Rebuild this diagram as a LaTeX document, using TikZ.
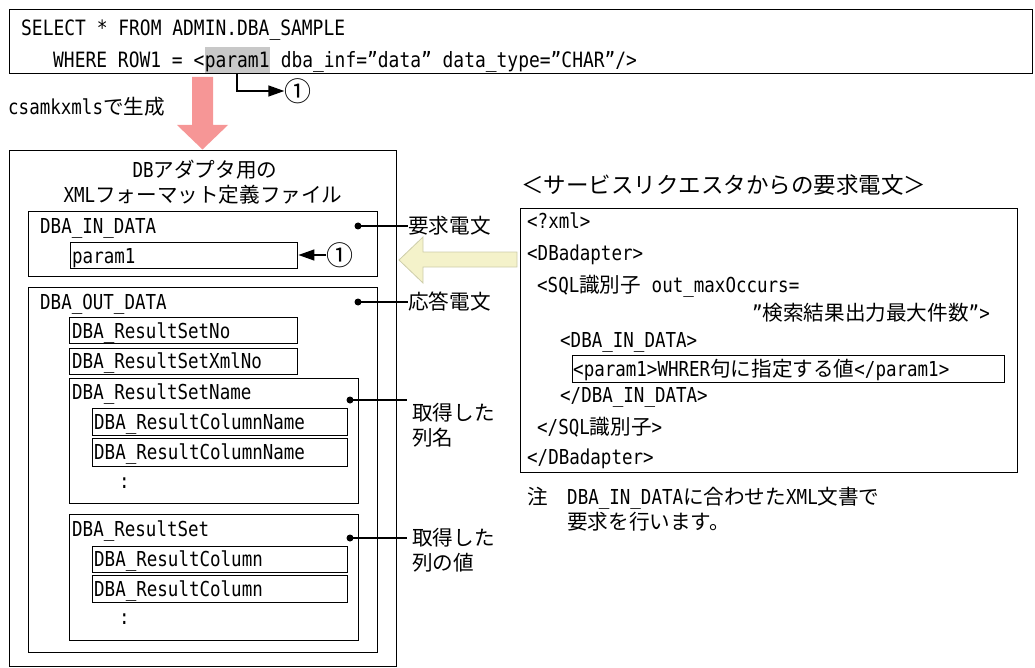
\documentclass[tikz,border=0pt]{standalone}
\usepackage{fontspec}
\setmainfont{DejaVu Sans Mono}[FakeStretch=0.85]
\newfontfamily\jpf{Noto Sans CJK JP}
\newcommand\jt[1]{{\jpf #1}}
\usetikzlibrary{arrows.meta}
\definecolor{pinkarrow}{RGB}{246,150,150}
\definecolor{yelfill}{RGB}{244,242,202}
\definecolor{yeldraw}{RGB}{205,205,170}
\definecolor{hlgray}{RGB}{200,200,200}
\begin{document}
\begin{tikzpicture}[x=1pt,y=-1pt,
  every node/.style={font=\fontsize{20.6}{24}\selectfont},
  txt/.style={anchor=west, inner sep=0pt, text height=15pt, text depth=0pt},
  ctxt/.style={anchor=center, inner sep=0pt, text height=15pt, text depth=0pt},
  toptxt/.style={txt, font=\fontsize{21.1}{24}\selectfont},
  frm/.style={draw, line width=1.4pt, anchor=north west, inner sep=0pt},
  dotnode/.style={circle, fill=black, inner sep=0pt, minimum size=7pt},
  lead/.style={line width=1.4pt},
  tip/.style={line width=1.4pt, -{Triangle[length=16pt,width=11pt]}},
  circ/.style={anchor=center, inner sep=0pt, font=\fontsize{27}{28}\selectfont\jpf}
]
\useasboundingbox (0,0) rectangle (1035,668);

% ---------- top SQL box ----------
\node[frm, minimum width=1023pt, minimum height=64pt] (sqlbox) at (9,9) {};
\node[toptxt] (s1) at (21,28) {SELECT * FROM ADMIN.DBA\_SAMPLE};
\node[toptxt] (w1) at (53,60) {WHERE ROW1 = <};
\node[toptxt, fill=hlgray, inner ysep=5.5pt, anchor=west] (p1) at (w1.east) {param1};
\node[toptxt] (w3) at (p1.east) {\ dba\_inf="data" data\_type="CHAR"/>};
\node[circ] (c1) at (298,91) {①};
\draw[tip] (p1.south) |- (c1.west);

% ---------- pink arrow ----------
\node[txt] (gen) at (8,107) {csamkxmls\jt{で生成}};
\fill[pinkarrow] (192,77) -- (213,77) -- (213,125) -- (228,125) -- (202.5,149.5)
  -- (177,125) -- (192,125) -- cycle;

% ---------- left definition file ----------
\node[frm, minimum width=387pt, minimum height=516pt] (defbox) at (9,150) {};
\node[ctxt] (t1) at (205,170) {DB\jt{アダプタ用の}};
\node[ctxt] (t2) at (203,195) {XML\jt{フォーマット定義ファイル}};

\node[frm, minimum width=349pt, minimum height=65pt] (inbox) at (28,211) {};
\node[txt] (inlbl) at (40,226) {DBA\_IN\_DATA};
\node[frm, minimum width=227pt, minimum height=26pt] (pbox) at (70,242) {};
\node[txt] (plbl) at (72,256) {param1};
\node[circ] (c2) at (340,255) {①};
\draw[tip] (c2.west) -- (c2.west -| pbox.east);

\node[frm, minimum width=349pt, minimum height=365pt] (outbox) at (28,287) {};
\node[txt] (outlbl) at (40,302) {DBA\_OUT\_DATA};
\node[frm, minimum width=228pt, minimum height=26pt] (rsno) at (69,317) {};
\node[txt] at (72,331) (rsnot) {DBA\_ResultSetNo};
\node[frm, minimum width=228pt, minimum height=26pt] (rsxml) at (69,348) {};
\node[txt] at (72,361) (rsxmlt) {DBA\_ResultSetXmlNo};

\node[frm, minimum width=289pt, minimum height=125pt] (rsname) at (69,378) {};
\node[txt] (rsnamet) at (72,392) {DBA\_ResultSetName};
\node[frm, minimum width=255pt, minimum height=27pt] (cn1) at (92,408) {};
\node[txt] (cn1t) at (94,422) {DBA\_ResultColumnName};
\node[frm, minimum width=255pt, minimum height=28pt] (cn2) at (92,438) {};
\node[txt] (cn2t) at (94,452) {DBA\_ResultColumnName};
\node[txt] (dots1) at (119,481) {:};

\node[frm, minimum width=289pt, minimum height=126pt] (rs) at (69,514) {};
\node[txt] (rst) at (72,529) {DBA\_ResultSet};
\node[frm, minimum width=255pt, minimum height=26pt] (col1) at (92,546) {};
\node[txt] (col1t) at (94,559) {DBA\_ResultColumn};
\node[frm, minimum width=255pt, minimum height=27pt] (col2) at (92,575) {};
\node[txt] (col2t) at (94,589) {DBA\_ResultColumn};
\node[txt] (dots2) at (119,617) {:};

% ---------- callouts ----------
\node[dotnode] (d1) at (358,226) {};
\node[txt] (l1) at (408,226) {\jt{要求電文}};
\draw[lead] (d1.center) -- (l1.west);
\node[dotnode] (d2) at (358,302) {};
\node[txt] (l2) at (408,302) {\jt{応答電文}};
\draw[lead] (d2.center) -- (l2.west);
\node[dotnode] (d3) at (350,400) {};
\coordinate (e3) at (407,400);
\draw[lead] (d3.center) -- (e3);
\node[txt] (l3a) at (412,413) {\jt{取得した}};
\node[txt] (l3b) at (412,438) {\jt{列名}};
\node[dotnode] (d4) at (350,538) {};
\coordinate (e4) at (407,538);
\draw[lead] (d4.center) -- (e4);
\node[txt] (l4a) at (412,538) {\jt{取得した}};
\node[txt] (l4b) at (412,563) {\jt{列の値}};

% ---------- yellow arrow ----------
\filldraw[fill=yelfill, draw=yeldraw, line width=0.8pt]
  (517,252) -- (423,252) -- (423,237) -- (399,260) -- (423,283) -- (423,267)
  -- (517,267) -- cycle;

% ---------- right request message ----------
\node[txt, font=\fontsize{22.5}{26}\selectfont\jpf] (rtitle) at (521,186) {＜サービスリクエスタからの要求電文＞};
\node[frm, minimum width=497pt, minimum height=264pt] (reqbox) at (520,208) {};
\node[txt] (r1) at (527,221) {<?xml>};
\node[txt] (r2) at (527,253) {<DBadapter>};
\node[txt] (r3) at (537,285) {<SQL\jt{識別子} out\_maxOccurs=};
\node[txt, anchor=east] (r4) at (990,313) {"\jt{検索結果出力最大件数}">};
\node[txt] (r5) at (560,340) {<DBA\_IN\_DATA>};
\node[frm, minimum width=432pt, minimum height=27pt] (rpbox) at (572,355) {};
\node[txt] (rpt) at (573,369) {<param1>WHRER\jt{句に指定する値}</param1>};
\node[txt] (r6) at (560,395) {</DBA\_IN\_DATA>};
\node[txt] (r7) at (537,427) {</SQL\jt{識別子}>};
\node[txt] (r8) at (527,457) {</DBadapter>};

\node[txt] (n0) at (527,497) {\jt{注}};
\node[txt] (n1) at (567,497) {DBA\_IN\_DATA\jt{に合わせた}XML\jt{文書で}};
\node[txt] (n2) at (567,522) {\jt{要求を行います。}};
\end{tikzpicture}
\end{document}
